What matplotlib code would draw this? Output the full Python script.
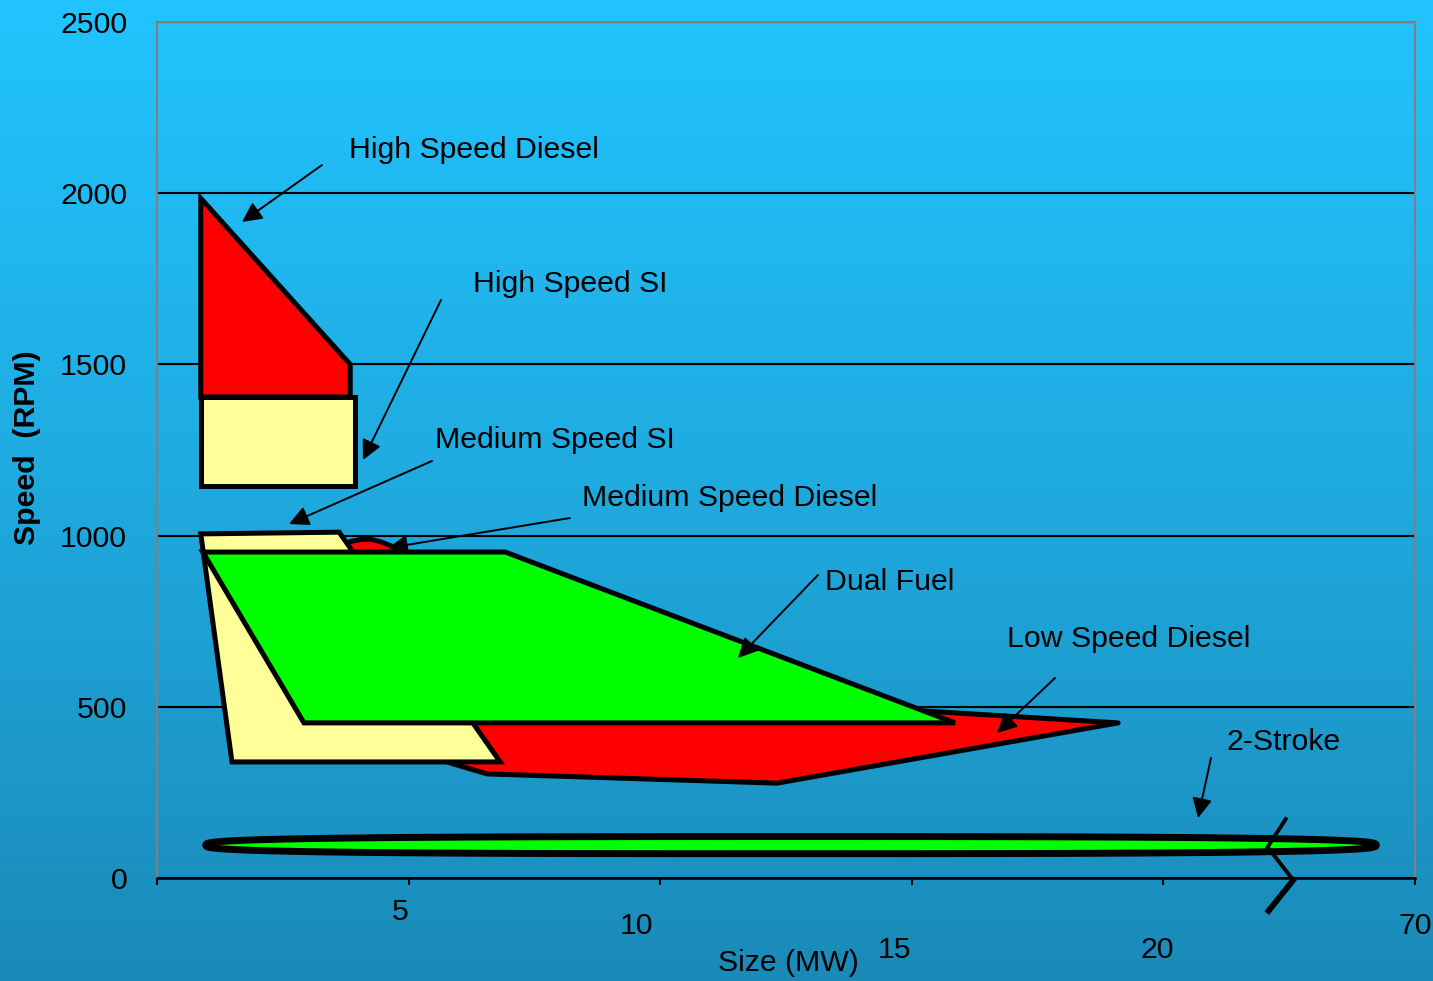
import numpy as np
import matplotlib
matplotlib.use("Agg")
import matplotlib.pyplot as plt
from matplotlib.patches import Polygon
from matplotlib.colors import LinearSegmentedColormap

plt.rcParams['font.family'] = ['Liberation Sans', 'DejaVu Sans']

# ---------------- data (Size in MW, Speed in RPM) ----------------
hsd_x = [0.87, 3.84, 3.84, 0.87]
hsd_y = [1985, 1500, 1405, 1405]

hssi_x = [0.87, 3.93, 3.93, 0.87]
hssi_y = [1405, 1405, 1145, 1145]

msd_x = [3.62, 3.70, 3.85, 4.05, 4.25, 4.45, 4.65, 4.85, 15.22, 19.10, 12.32, 6.56, 5.62, 3.44]
msd_y = [949, 970, 983, 989, 989, 982, 970, 955, 488, 453, 277, 304, 345, 695]

mssi_x = [0.87, 3.62, 6.82, 1.49]
mssi_y = [1005, 1010, 339, 339]

df_x = [0.91, 6.92, 15.86, 2.92]
df_y = [952, 952, 453, 453]

two_stroke_center = (12.60, 96)
two_stroke_width = 23.26
two_stroke_height = 50

break_x = [22.43, 22.07, 22.58, 22.09]
break_y = [172, 90, -6, -96]

x_ticks = [0, 5, 10, 15, 20, 25]
x_tick_labels = ['', '5', '10', '15', '20', '70']
y_ticks = [0, 500, 1000, 1500, 2000, 2500]

labels = ["High Speed Diesel", "High Speed SI", "Medium Speed SI",
          "Medium Speed Diesel", "Dual Fuel", "Low Speed Diesel", "2-Stroke"]

FS = 21.8

# ---------------- figure ----------------
W, H = 1433, 981
fig = plt.figure(figsize=(W / 100, H / 100), dpi=100)

# gradient background
bg = fig.add_axes([0, 0, 1, 1], zorder=-10)
cmap = LinearSegmentedColormap.from_list('bg', ['#22C4FF', '#1FAADF', '#1A8AB8'])
grad = np.linspace(0, 1, 256).reshape(-1, 1)
bg.imshow(grad, aspect='auto', cmap=cmap, extent=[0, 1, 0, 1], origin='upper')
bg.axis('off')

L, R, T, B = 157, 1415, 22, 878
ax = fig.add_axes([L / W, 1 - B / H, (R - L) / W, (B - T) / H])
ax.set_facecolor('none')
ax.set_xlim(0, 25)
ax.set_ylim(0, 2500)


def px2x(px):
    return (px - L) / (R - L) * 25


def px2y(py):
    return (B - py) / (B - T) * 2500


# grid
ax.set_yticks(y_ticks)
ax.set_yticklabels([str(v) for v in y_ticks], fontsize=FS)
ax.tick_params(axis='y', length=0, pad=21.5)
ax.yaxis.grid(True, color='black', lw=1.5)
ax.set_axisbelow(True)

ax.set_xticks(x_ticks)
ax.set_xticklabels([''] * len(x_ticks))
ax.tick_params(axis='x', direction='out', length=5, width=1.5, color='black')

for s in ['left', 'top', 'right']:
    ax.spines[s].set_color('#808080')
    ax.spines[s].set_linewidth(1.5)
ax.spines['bottom'].set_color('black')
ax.spines['bottom'].set_linewidth(1.8)

# staggered x tick labels
tick_label_pos = [(400, 920), (637, 934), (895, 958), (1157, 958), (1415, 934)]
for lab, (px, py) in zip(x_tick_labels[1:], tick_label_pos):
    fig.text(px / W, 1 - py / H, lab, fontsize=FS, ha='center', va='baseline')

fig.text(788 / W, 1 - 971 / H, "Size (MW)", fontsize=FS, ha='center', va='baseline')
fig.text(27 / W, 1 - 448 / H, "Speed  (RPM)", fontsize=FS, fontweight='bold',
         rotation=90, ha='center', va='center')

# shapes
lw = 3.6
ax.add_patch(Polygon(np.column_stack([hsd_x, hsd_y]), closed=True, fc='#FF0000',
                     ec='black', lw=lw, joinstyle='miter', zorder=3))
ax.add_patch(Polygon(np.column_stack([hssi_x, hssi_y]), closed=True, fc='#FFFF99',
                     ec='black', lw=lw, joinstyle='miter', zorder=4))
ax.add_patch(Polygon(np.column_stack([msd_x, msd_y]), closed=True, fc='#FF0000',
                     ec='black', lw=lw, joinstyle='round', zorder=5))
ax.add_patch(Polygon(np.column_stack([mssi_x, mssi_y]), closed=True, fc='#FFFF99',
                     ec='black', lw=lw, joinstyle='miter', zorder=6))
ax.add_patch(Polygon(np.column_stack([df_x, df_y]), closed=True, fc='#00FF00',
                     ec='black', lw=lw, joinstyle='miter', zorder=7))

# 2-stroke band: rounded (superellipse) outline
t = np.linspace(0, 2 * np.pi, 400)
n = 3.0
cx, cy = two_stroke_center
a, b = two_stroke_width / 2, two_stroke_height / 2
ex = cx + a * np.sign(np.cos(t)) * np.abs(np.cos(t)) ** (2 / n)
ey = cy + b * np.sign(np.sin(t)) * np.abs(np.sin(t)) ** (2 / n)
ax.add_patch(Polygon(np.column_stack([ex, ey]), closed=True, fc='#00FF00',
                     ec='black', lw=5, joinstyle='round', zorder=7))

# axis break symbol
ax.plot(break_x[:3], break_y[:3], color='black', lw=2.8, clip_on=False, zorder=9,
        solid_joinstyle='miter')
ax.plot(break_x[2:], break_y[2:], color='black', lw=4.2, clip_on=False, zorder=9)

# annotations
text_pos = [(349, 158), (473, 292), (435, 448), (582, 506), (825, 590), (1007, 647), (1227, 750)]
arrows = [((322, 165), (242, 222)),
          ((441, 300), (363, 460)),
          ((432, 461), (289, 524)),
          ((570, 518), (388, 548)),
          ((818, 575), (738, 658)),
          ((1055, 678), (997, 733)),
          ((1211, 758), (1198, 818))]
for lab, (tx, ty), (tail, head) in zip(labels, text_pos, arrows):
    ax.text(px2x(tx), px2y(ty), lab, fontsize=FS, ha='left', va='baseline', zorder=10)
    ax.annotate('', xy=(px2x(head[0]), px2y(head[1])),
                xytext=(px2x(tail[0]), px2y(tail[1])),
                arrowprops=dict(arrowstyle='-|>', color='black', lw=1.4,
                                mutation_scale=30, shrinkA=0, shrinkB=0),
                zorder=10, annotation_clip=False)

fig.savefig('out.png', dpi=100)
